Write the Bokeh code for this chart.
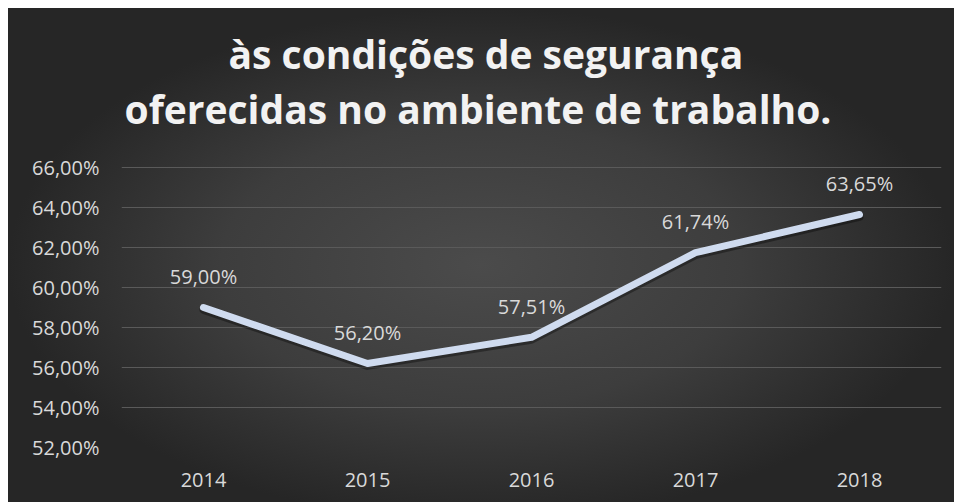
from bokeh.plotting import figure
from bokeh.models import ColumnDataSource, FactorRange, Range1d, FixedTicker, Title
from bokeh.core.properties import value
from bokeh.transform import dodge
from bokeh.embed import file_html
from bokeh.resources import INLINE

# ---- data ----
years = ["2014", "2015", "2016", "2017", "2018"]
values = [59.00, 56.20, 57.51, 61.74, 63.65]
y_ticks = [52, 54, 56, 58, 60, 62, 64, 66]
y_tick_labels = ["52,00%", "54,00%", "56,00%", "58,00%", "60,00%", "62,00%", "64,00%", "66,00%"]
title_lines = ["às condições de segurança", "oferecidas no ambiente de trabalho."]

labels = [f"{v:.2f}".replace(".", ",") + "%" for v in values]
src = ColumnDataSource(dict(x=years, y=values, lab=labels))

FONT = "Open Sans"
TXT = "#d9d9d9"

p = figure(
    width=946, height=494,
    x_range=FactorRange(factors=years, range_padding=0),
    y_range=Range1d(52, 66.05),
    output_backend="svg", toolbar_location=None,
    min_border_left=113, min_border_right=13, min_border_top=158, min_border_bottom=55,
)
p.background_fill_color = None
p.border_fill_color = None
p.outline_line_color = None
p.styles = {
    "background": "radial-gradient(ellipse farthest-side at 50% 52%, #4b4b4b 0%, #3d3d3d 55%, #262626 100%)",
    "margin-left": "8px", "margin-top": "8px",
}

# titles (later-added appear above); a near-invisible spacer keeps line 2 off the plot
spacer = Title(text=".", text_font_size="1px", text_color="#2c2c2c", text_alpha=0.01,
               standoff=29, text_line_height=1.0)
t2 = Title(text=title_lines[1], align="left", text_font=FONT, text_font_size="39px",
           text_font_style="bold", text_color="#f2f2f2", standoff=0, offset=3,
           text_line_height=0.92)
t1 = Title(text=title_lines[0], align="left", text_font=FONT, text_font_size="39px",
           text_font_style="bold", text_color="#f2f2f2", standoff=0, offset=107,
           text_line_height=1.0)
p.add_layout(spacer, "above")
p.add_layout(t2, "above")
p.add_layout(t1, "above")

# grid
p.xgrid.grid_line_color = None
p.ygrid.grid_line_color = "#5a5a5a"
p.ygrid.grid_line_width = 1
p.yaxis.ticker = FixedTicker(ticks=y_ticks)
p.yaxis.major_label_overrides = {t: l for t, l in zip(y_ticks, y_tick_labels)}

for ax in (p.xaxis[0], p.yaxis[0]):
    ax.axis_line_color = None
    ax.major_tick_line_color = None
    ax.minor_tick_line_color = None
    ax.major_tick_out = 0
    ax.major_tick_in = 0
    ax.major_label_text_font = FONT
    ax.major_label_text_font_size = "20px"
    ax.major_label_text_color = TXT
p.yaxis.major_label_standoff = 22
p.xaxis.major_label_standoff = 25

# line shadow + line
p.line(x="x", y=dodge("y", -0.12), source=src, line_color="black", line_alpha=0.35,
       line_width=8, line_cap="round", line_join="round")
p.line(x="x", y="y", source=src, line_color="#cfdbef", line_width=7,
       line_cap="round", line_join="round")

# data labels
p.text(x="x", y="y", text="lab", source=src, text_align="center", text_baseline="middle",
       y_offset=-31, text_font=value(FONT), text_font_size=value("20px"), text_color=TXT)

open("out.html", "w").write(file_html(p, INLINE))
